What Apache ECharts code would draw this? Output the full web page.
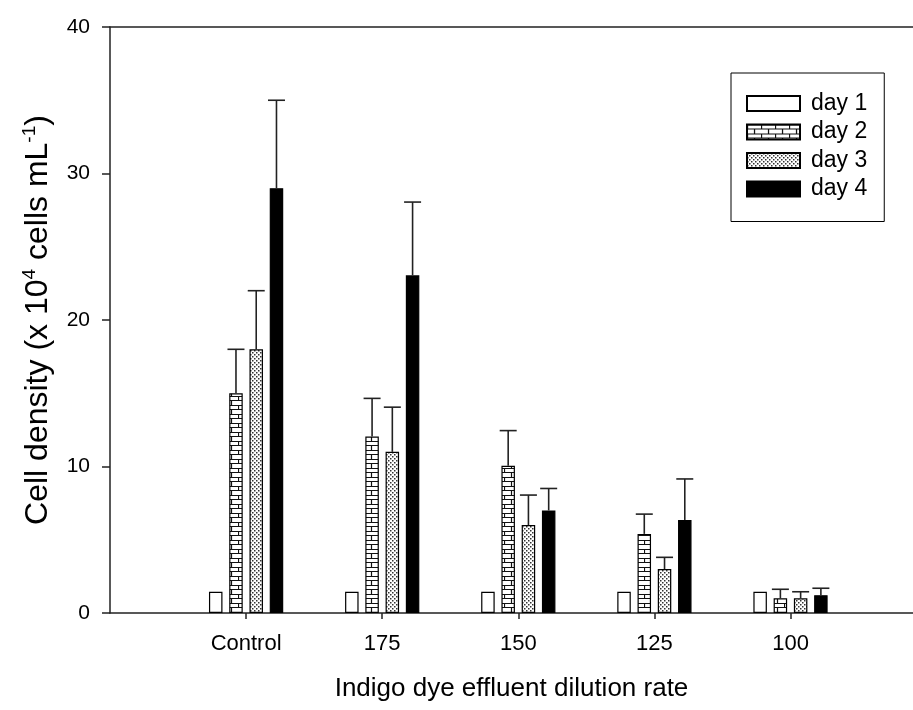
<!DOCTYPE html>
<html>
<head>
<meta charset="utf-8">
<script src="https://cdn.jsdelivr.net/npm/echarts@6/dist/echarts.min.js"></script>
<style>
html,body{margin:0;padding:0;background:#fff;}
#chart{width:913px;height:710px;}
</style>
</head>
<body>
<div id="chart"></div>
<script>
// ---- data ----
var categories = ['Control', '175', '150', '125', '100'];
var seriesNames = ['day 1', 'day 2', 'day 3', 'day 4'];
var day1 = [1.45, 1.45, 1.45, 1.45, 1.45];
var day2 = [15.0, 12.05, 10.05, 5.4, 1.0];
var day3 = [18.0, 11.0, 6.0, 3.0, 1.0];
var day4 = [29.0, 23.05, 7.0, 6.35, 1.22];
var err1 = [0, 0, 0, 0, 0];
var err2 = [3.0, 2.6, 2.4, 1.35, 0.62];
var err3 = [4.0, 3.05, 2.05, 0.8, 0.45];
var err4 = [6.0, 5.0, 1.5, 2.8, 0.47];
var yTicks = [0, 10, 20, 30, 40];

var means = [day1, day2, day3, day4];
var errs = [err1, err2, err3, err4];

// ---- patterns ----
function brickPattern() {
  var c = document.createElement('canvas');
  c.width = 14; c.height = 9;
  var g = c.getContext('2d');
  g.fillStyle = '#fff'; g.fillRect(0, 0, 14, 9);
  g.strokeStyle = '#111'; g.lineWidth = 1.2;
  g.beginPath();
  g.moveTo(0, 0.5); g.lineTo(14, 0.5);
  g.moveTo(0, 4.5); g.lineTo(14, 4.5);
  g.moveTo(0.5, 0); g.lineTo(0.5, 4.5);
  g.moveTo(7.5, 4.5); g.lineTo(7.5, 9);
  g.stroke();
  return c;
}
function dotPattern() {
  var c = document.createElement('canvas');
  c.width = 4; c.height = 4;
  var g = c.getContext('2d');
  g.fillStyle = '#fff'; g.fillRect(0, 0, 4, 4);
  g.fillStyle = '#333';
  g.fillRect(0, 0, 1.5, 1.5);
  g.fillRect(2, 2, 1.5, 1.5);
  return c;
}
var fills = [
  '#ffffff',
  { image: brickPattern(), repeat: 'repeat' },
  { image: dotPattern(), repeat: 'repeat' },
  '#000000'
];

var BAR_W = 13.5;
var STEP = BAR_W * 1.5;
var offsets = [-1.5 * STEP, -0.5 * STEP, 0.5 * STEP, 1.5 * STEP];

var series = [];
seriesNames.forEach(function (name, i) {
  series.push({
    name: name,
    type: 'bar',
    barWidth: BAR_W,
    barGap: '50%',
    data: means[i].map(function (v, j) { return [j + 1, v]; }),
    itemStyle: { color: fills[i], borderColor: '#000', borderWidth: 1.2 },
    emphasis: { disabled: true },
    z: 2
  });
});
seriesNames.forEach(function (name, i) {
  series.push({
    name: 'err ' + name,
    type: 'custom',
    z: 3,
    silent: true,
    data: means[i].map(function (v, j) { return [j + 1, v, errs[i][j]]; }),
    renderItem: function (params, api) {
      var x = api.value(0), y = api.value(1), e = api.value(2);
      if (!e) return null;
      var p0 = api.coord([x, y]);
      var p1 = api.coord([x, y + e]);
      var cx = p0[0] + offsets[i];
      var st = { stroke: '#222', lineWidth: 1.6 };
      return {
        type: 'group',
        children: [
          { type: 'line', shape: { x1: cx, y1: p0[1], x2: cx, y2: p1[1] }, style: st },
          { type: 'line', shape: { x1: cx - 8.5, y1: p1[1], x2: cx + 8.5, y2: p1[1] }, style: st }
        ]
      };
    }
  });
});

var chart = echarts.init(document.getElementById('chart'), null, { renderer: 'canvas' });
var FONT = '"Liberation Sans", Arial, sans-serif';
chart.setOption({
  animation: false,
  backgroundColor: '#fff',
  textStyle: { fontFamily: FONT, color: '#000' },
  grid: { left: 110, right: 0, top: 27, bottom: 97 },
  legend: {
    data: seriesNames,
    orient: 'vertical',
    left: 731,
    top: 73,
    itemWidth: 53,
    itemHeight: 15,
    itemGap: 5.5,
    padding: [19, 17, 21, 15],
    borderColor: '#000',
    borderWidth: 1,
    icon: 'rect',
    selectedMode: false,
    textStyle: { fontFamily: FONT, fontSize: 23, color: '#000', padding: [0, 0, 0, 6] }
  },
  xAxis: [{
    type: 'value',
    min: 0,
    max: 5.9,
    interval: 1,
    position: 'bottom',
    splitLine: { show: false },
    axisLine: { show: true, lineStyle: { color: '#222', width: 1.5 } },
    axisTick: { show: true, customValues: [1, 2, 3, 4, 5], length: 6, lineStyle: { color: '#222', width: 1.5 } },
    axisLabel: {
      customValues: [1, 2, 3, 4, 5],
      formatter: function (v) { return categories[Math.round(v) - 1] || ''; },
      fontSize: 22, color: '#000', margin: 20, fontFamily: FONT
    },
    name: 'Indigo dye effluent dilution rate',
    nameLocation: 'middle',
    nameGap: 63,
    nameTextStyle: { fontSize: 26, color: '#000', fontFamily: FONT }
  }, {
    type: 'value',
    min: 0,
    max: 5.9,
    position: 'top',
    splitLine: { show: false },
    axisLine: { show: true, lineStyle: { color: '#222', width: 1.5 } },
    axisTick: { show: false },
    axisLabel: { show: false }
  }],
  yAxis: {
    type: 'value',
    min: 0,
    max: 40,
    interval: 10,
    splitLine: { show: false },
    axisLine: { show: true, lineStyle: { color: '#222', width: 1.5 } },
    axisTick: { show: true, length: 8, lineStyle: { color: '#222', width: 1.5 } },
    axisLabel: {
      fontSize: 21, color: '#000', margin: 20, fontFamily: FONT,
      formatter: function (v) { return yTicks.indexOf(v) >= 0 ? String(v) : ''; }
    },
    name: '{a|Cell density (x 10}{s|4}{a| cells mL}{s|-1}{a|)}',
    nameLocation: 'middle',
    nameGap: 54,
    nameTextStyle: {
      fontFamily: FONT,
      rich: {
        a: { fontSize: 32, color: '#000', fontFamily: FONT, lineHeight: 36 },
        s: { fontSize: 19, color: '#000', fontFamily: FONT, verticalAlign: 'top', lineHeight: 36 }
      }
    }
  },
  series: series
});
</script>
</body>
</html>
